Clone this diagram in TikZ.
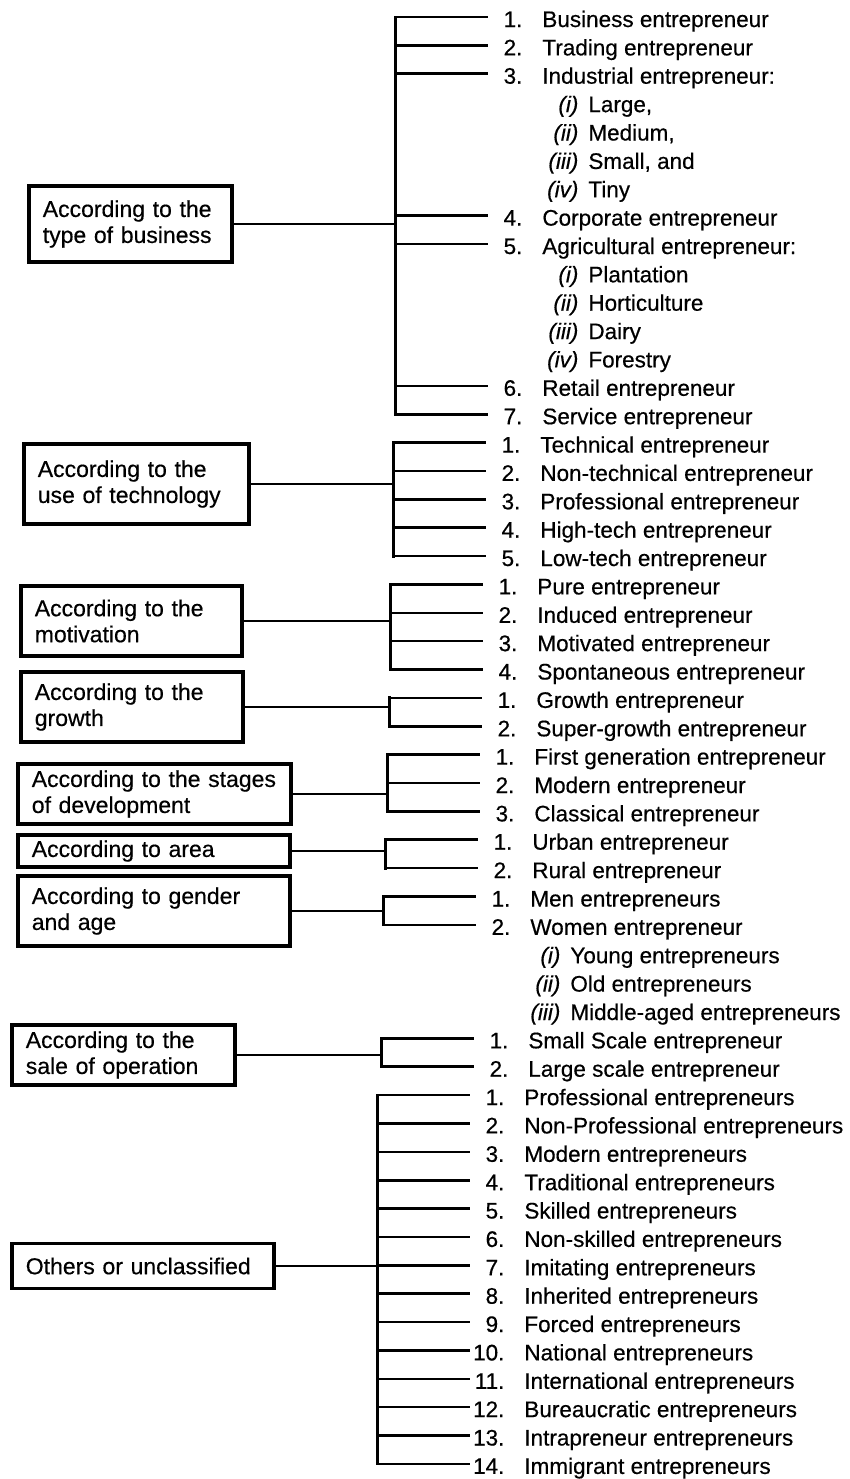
\documentclass[tikz,border=0pt]{standalone}
\usepackage{fontspec}
\setmainfont{Liberation Sans}[FakeBold=0.45]
% number column and sub-item columns of the list entries
\newcommand{\itemno}[1]{\makebox[17pt][r]{#1}\hspace{10pt}}
\newcommand{\subno}[1]{\makebox[42pt][r]{\textit{#1}}\hspace{5pt}}
\newcommand{\subnowide}[1]{\makebox[45pt][r]{\textit{#1}}\hspace{5pt}}
\tikzset{
  entry/.style={anchor=west, inner sep=0pt, text height=10pt, text depth=0pt,
    font=\fontsize{11.25pt}{13pt}\selectfont},
  catbox/.style={draw, line width=1.8pt, anchor=west, align=left,
    inner xsep=7pt, inner ysep=0pt, font=\fontsize{11.5pt}{13pt}\selectfont},
  link/.style={line width=1.3pt},
  spine/.style={line width=1.5pt, line cap=rect},
}
\begin{document}
\begin{tikzpicture}[x=0.5pt, y=-0.5pt]
\useasboundingbox (0,0) rectangle (850,1479);

% ---------- category boxes ----------
\node[catbox, text width=87.5pt, minimum height=38pt] (bA) at (27,224) {According to the\\type of business};
\node[catbox, text width=98.5pt, minimum height=40pt] (bB) at (22,484) {According to the\\use of technology};
\node[catbox, text width=96.5pt, minimum height=35pt] (bC) at (19,621) {According to the\\motivation};
\node[catbox, text width=97pt, minimum height=35pt] (bD) at (19,707) {According to the\\growth};
\node[catbox, text width=122.5pt, minimum height=30pt] (bE) at (16,794) {According to the stages\\of development};
\node[catbox, text width=122pt, minimum height=16pt] (bF) at (16,851) {According to area};
\node[catbox, text width=122pt, minimum height=35pt] (bG) at (16,911) {According to gender\\and age};
\node[catbox, text width=97.5pt, minimum height=30pt] (bH) at (10,1055) {According to the\\sale of operation};
\node[catbox, text width=117pt, minimum height=22.5pt] (bI) at (10,1266) {Others or unclassified};

% ---------- bracket joints ----------
\coordinate (jA) at (395,224);
\coordinate (jB) at (393,484);
\coordinate (jC) at (390,621);
\coordinate (jD) at (389,707);
\coordinate (jE) at (387,794);
\coordinate (jF) at (385,851);
\coordinate (jG) at (383,911);
\coordinate (jH) at (381,1055);
\coordinate (jI) at (377,1266);

% ---------- type of business ----------
\node[entry] (a1) at (488,17) {\itemno{1.}Business entrepreneur};
\node[entry] (a2) at (488,45.4) {\itemno{2.}Trading entrepreneur};
\node[entry] (a3) at (488,73.7) {\itemno{3.}Industrial entrepreneur:};
\node[entry] (a3i) at (488,102.1) {\subnowide{(i)}Large,};
\node[entry] (a3ii) at (488,130.5) {\subnowide{(ii)}Medium,};
\node[entry] (a3iii) at (488,158.9) {\subnowide{(iii)}Small, and};
\node[entry] (a3iv) at (488,187.2) {\subnowide{(iv)}Tiny};
\node[entry] (a4) at (488,215.6) {\itemno{4.}Corporate entrepreneur};
\node[entry] (a5) at (488,244) {\itemno{5.}Agricultural entrepreneur:};
\node[entry] (a5i) at (488,272.3) {\subnowide{(i)}Plantation};
\node[entry] (a5ii) at (488,300.7) {\subnowide{(ii)}Horticulture};
\node[entry] (a5iii) at (488,329.1) {\subnowide{(iii)}Dairy};
\node[entry] (a5iv) at (488,357.4) {\subnowide{(iv)}Forestry};
\node[entry] (a6) at (488,385.8) {\itemno{6.}Retail entrepreneur};
\node[entry] (a7) at (488,414.2) {\itemno{7.}Service entrepreneur};

% ---------- use of technology ----------
\node[entry] (b1) at (486,442.6) {\itemno{1.}Technical entrepreneur};
\node[entry] (b2) at (486,470.9) {\itemno{2.}Non-technical entrepreneur};
\node[entry] (b3) at (486,499.3) {\itemno{3.}Professional entrepreneur};
\node[entry] (b4) at (486,527.7) {\itemno{4.}High-tech entrepreneur};
\node[entry] (b5) at (486,556.0) {\itemno{5.}Low-tech entrepreneur};

% ---------- motivation ----------
\node[entry] (c1) at (483,584.4) {\itemno{1.}Pure entrepreneur};
\node[entry] (c2) at (483,612.8) {\itemno{2.}Induced entrepreneur};
\node[entry] (c3) at (483,641.1) {\itemno{3.}Motivated entrepreneur};
\node[entry] (c4) at (483,669.5) {\itemno{4.}Spontaneous entrepreneur};

% ---------- growth ----------
\node[entry] (d1) at (482,697.9) {\itemno{1.}Growth entrepreneur};
\node[entry] (d2) at (482,726.3) {\itemno{2.}Super-growth entrepreneur};

% ---------- stages of development ----------
\node[entry] (e1) at (480,754.6) {\itemno{1.}First generation entrepreneur};
\node[entry] (e2) at (480,783.0) {\itemno{2.}Modern entrepreneur};
\node[entry] (e3) at (480,811.4) {\itemno{3.}Classical entrepreneur};

% ---------- area ----------
\node[entry] (f1) at (478,839.7) {\itemno{1.}Urban entrepreneur};
\node[entry] (f2) at (478,868.1) {\itemno{2.}Rural entrepreneur};

% ---------- gender and age ----------
\node[entry] (g1) at (476,896.5) {\itemno{1.}Men entrepreneurs};
\node[entry] (g2) at (476,924.8) {\itemno{2.}Women entrepreneur};
\node[entry] (g2i) at (476,953.2) {\subno{(i)}Young entrepreneurs};
\node[entry] (g2ii) at (476,981.6) {\subno{(ii)}Old entrepreneurs};
\node[entry] (g2iii) at (476,1010.0) {\subno{(iii)}Middle-aged entrepreneurs};

% ---------- scale of operation ----------
\node[entry] (h1) at (474,1038.3) {\itemno{1.}Small Scale entrepreneur};
\node[entry] (h2) at (474,1066.7) {\itemno{2.}Large scale entrepreneur};

% ---------- others ----------
\node[entry] (i1) at (470,1095.1) {\itemno{1.}Professional entrepreneurs};
\node[entry] (i2) at (470,1123.4) {\itemno{2.}Non-Professional entrepreneurs};
\node[entry] (i3) at (470,1151.8) {\itemno{3.}Modern entrepreneurs};
\node[entry] (i4) at (470,1180.2) {\itemno{4.}Traditional entrepreneurs};
\node[entry] (i5) at (470,1208.5) {\itemno{5.}Skilled entrepreneurs};
\node[entry] (i6) at (470,1236.9) {\itemno{6.}Non-skilled entrepreneurs};
\node[entry] (i7) at (470,1265.3) {\itemno{7.}Imitating entrepreneurs};
\node[entry] (i8) at (470,1293.7) {\itemno{8.}Inherited entrepreneurs};
\node[entry] (i9) at (470,1322.0) {\itemno{9.}Forced entrepreneurs};
\node[entry] (i10) at (470,1350.4) {\itemno{10.}National entrepreneurs};
\node[entry] (i11) at (470,1378.8) {\itemno{11.}International entrepreneurs};
\node[entry] (i12) at (470,1407.1) {\itemno{12.}Bureaucratic entrepreneurs};
\node[entry] (i13) at (470,1435.5) {\itemno{13.}Intrapreneur entrepreneurs};
\node[entry] (i14) at (470,1463.9) {\itemno{14.}Immigrant entrepreneurs};

% ---------- boxes to brackets ----------
\foreach \b/\j in {bA/jA, bB/jB, bC/jC, bD/jD, bE/jE, bF/jF, bG/jG, bH/jH, bI/jI}
  \draw[link] (\b.east) -- (\j);

% ---------- bracket spines ----------
\draw[spine] (a1.west -| jA) -- (a7.west -| jA);
\draw[spine] (b1.west -| jB) -- (b5.west -| jB);
\draw[spine] (c1.west -| jC) -- (c4.west -| jC);
\draw[spine] (d1.west -| jD) -- (d2.west -| jD);
\draw[spine] (e1.west -| jE) -- (e3.west -| jE);
\draw[spine] (f1.west -| jF) -- (f2.west -| jF);
\draw[spine] (g1.west -| jG) -- (g2.west -| jG);
\draw[spine] (h1.west -| jH) -- (h2.west -| jH);
\draw[spine] (i1.west -| jI) -- (i14.west -| jI);

% ---------- ticks to the entries ----------
\foreach \n in {a1,a2,a3,a4,a5,a6,a7} \draw[link] (\n.west -| jA) -- (\n.west);
\foreach \n in {b1,b2,b3,b4,b5} \draw[link] (\n.west -| jB) -- (\n.west);
\foreach \n in {c1,c2,c3,c4} \draw[link] (\n.west -| jC) -- (\n.west);
\foreach \n in {d1,d2} \draw[link] (\n.west -| jD) -- (\n.west);
\foreach \n in {e1,e2,e3} \draw[link] (\n.west -| jE) -- (\n.west);
\foreach \n in {f1,f2} \draw[link] (\n.west -| jF) -- (\n.west);
\foreach \n in {g1,g2} \draw[link] (\n.west -| jG) -- (\n.west);
\foreach \n in {h1,h2} \draw[link] (\n.west -| jH) -- (\n.west);
\foreach \n in {i1,i2,i3,i4,i5,i6,i7,i8,i9,i10,i11,i12,i13,i14} \draw[link] (\n.west -| jI) -- (\n.west);
\end{tikzpicture}
\end{document}
